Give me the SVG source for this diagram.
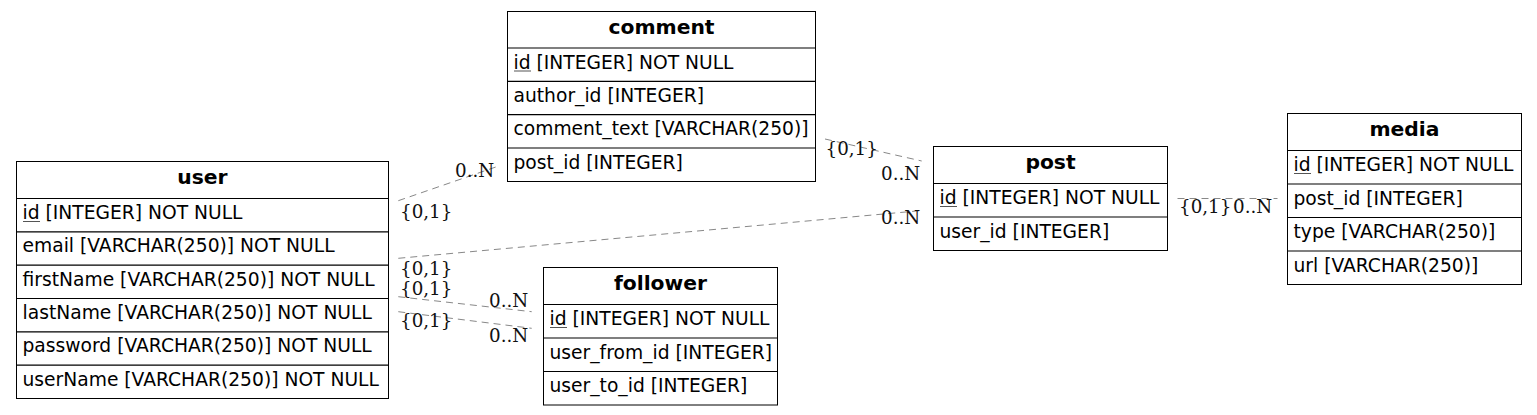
<svg xmlns="http://www.w3.org/2000/svg" width="1537" height="415" viewBox="0 0 1537 415">
<style>
.box{fill:#fff;stroke:#000;stroke-width:1}
.sep{stroke:#000;stroke-width:1.2}
.h{font-family:"DejaVu Sans",sans-serif;font-weight:bold;font-size:20.3px;text-anchor:middle;fill:#000}
.f{font-family:"DejaVu Sans",sans-serif;font-size:18.7px;fill:#000}
.ul{stroke:#555;stroke-width:1}
.lbl{font-family:"DejaVu Serif",serif;font-size:18.3px;fill:#111}
.e{fill:none;stroke:#888;stroke-width:1;stroke-dasharray:7,5}
</style>
<rect width="1537" height="415" fill="#fff"/>
<g id="connectors">
<path class="e" d="M398.3,200.7 L497,166.6"/>
<path class="e" d="M825,139 L921.7,161"/>
<path class="e" d="M398.3,258.3 L922,210.5"/>
<path class="e" d="M398.3,296.7 L531.7,311.7"/>
<path class="e" d="M398.3,311.7 L531.7,328.3"/>
<path class="e" d="M1177.5,198.5 L1277.5,198.5"/>
<text class="lbl" x="455" y="177">0..N</text>
<text class="lbl" x="400" y="218">{0,1}</text>
<text class="lbl" x="825.5" y="155">{0,1}</text>
<text class="lbl" x="881" y="180">0..N</text>
<text class="lbl" x="881" y="223.5">0..N</text>
<text class="lbl" x="400" y="275">{0,1}</text>
<text class="lbl" x="400" y="295">{0,1}</text>
<text class="lbl" x="489" y="307">0..N</text>
<text class="lbl" x="400" y="327">{0,1}</text>
<text class="lbl" x="489" y="342">0..N</text>
<text class="lbl" x="1179" y="213">{0,1}</text>
<text class="lbl" x="1233" y="213">0..N</text>
</g>
<g id="user">
<rect class="box" x="16.5" y="161.5" width="372" height="237"/>
<path class="sep" d="M16.5,198.5H388.5M16.5,231.8H388.5M16.5,265.2H388.5M16.5,298.5H388.5M16.5,331.8H388.5M16.5,365.2H388.5"/>
<text class="h" x="202.5" y="184">user</text>
<text class="f" x="22.5" y="219">id [INTEGER] NOT NULL</text>
<path class="ul" d="M23,221.5H40"/>
<text class="f" x="22.5" y="252.3">email [VARCHAR(250)] NOT NULL</text>
<text class="f" x="22.5" y="285.7">firstName [VARCHAR(250)] NOT NULL</text>
<text class="f" x="22.5" y="319">lastName [VARCHAR(250)] NOT NULL</text>
<text class="f" x="22.5" y="352.3">password [VARCHAR(250)] NOT NULL</text>
<text class="f" x="22.5" y="385.7">userName [VARCHAR(250)] NOT NULL</text>
</g>
<g id="comment">
<rect class="box" x="507.5" y="11.5" width="308" height="170"/>
<path class="sep" d="M507.5,48H815.5M507.5,81.3H815.5M507.5,114.7H815.5M507.5,148H815.5"/>
<text class="h" x="661.5" y="34">comment</text>
<text class="f" x="513.5" y="68.5">id [INTEGER] NOT NULL</text>
<path class="ul" d="M514,71H531"/>
<text class="f" x="513.5" y="101.8">author_id [INTEGER]</text>
<text class="f" x="513.5" y="135.2">comment_text [VARCHAR(250)]</text>
<text class="f" x="513.5" y="168.5">post_id [INTEGER]</text>
</g>
<g id="post">
<rect class="box" x="933.5" y="146.5" width="234" height="104"/>
<path class="sep" d="M933.5,183.5H1167.5M933.5,217H1167.5"/>
<text class="h" x="1050.5" y="169">post</text>
<text class="f" x="939.5" y="204">id [INTEGER] NOT NULL</text>
<path class="ul" d="M940,206.5H957"/>
<text class="f" x="939.5" y="237.5">user_id [INTEGER]</text>
</g>
<g id="media">
<rect class="box" x="1287.5" y="113.5" width="234" height="171"/>
<path class="sep" d="M1287.5,150.5H1521.5M1287.5,184H1521.5M1287.5,217.5H1521.5M1287.5,251H1521.5"/>
<text class="h" x="1404.5" y="136">media</text>
<text class="f" x="1293.5" y="171">id [INTEGER] NOT NULL</text>
<path class="ul" d="M1294,173.5H1311"/>
<text class="f" x="1293.5" y="204.5">post_id [INTEGER]</text>
<text class="f" x="1293.5" y="238">type [VARCHAR(250)]</text>
<text class="f" x="1293.5" y="271.5">url [VARCHAR(250)]</text>
</g>
<g id="follower">
<rect class="box" x="543.5" y="267.5" width="234" height="137.5"/>
<path class="sep" d="M543.5,304.5H777.5M543.5,338H777.5M543.5,371.5H777.5"/>
<text class="h" x="660.5" y="290">follower</text>
<text class="f" x="549.5" y="325">id [INTEGER] NOT NULL</text>
<path class="ul" d="M550,327.5H567"/>
<text class="f" x="549.5" y="358.5">user_from_id [INTEGER]</text>
<text class="f" x="549.5" y="392">user_to_id [INTEGER]</text>
</g>
</svg>
